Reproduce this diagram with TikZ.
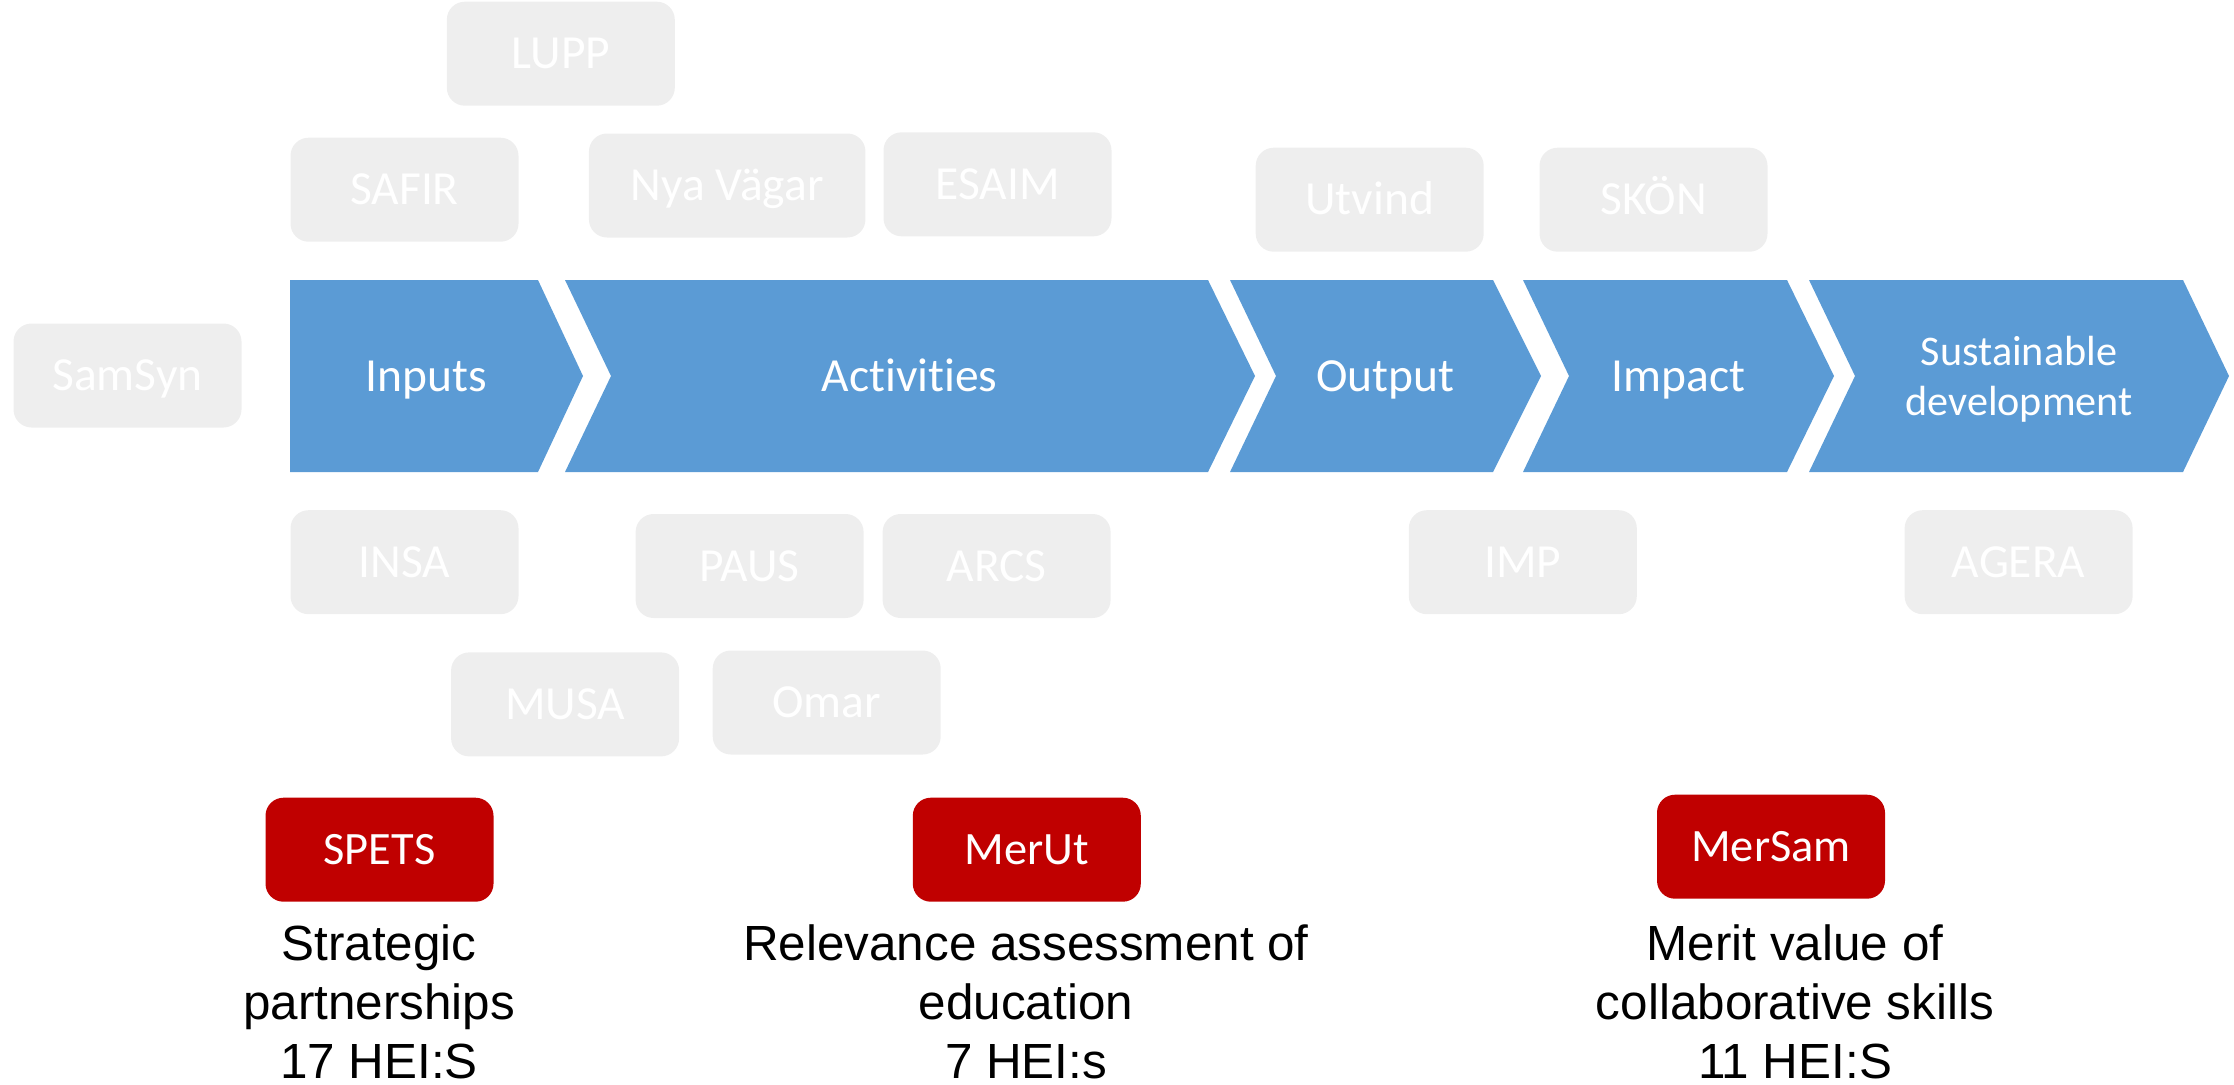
\documentclass[tikz,border=0pt]{standalone}
\usepackage{fontspec}
\setmainfont{Liberation Sans}
\newfontfamily\calibrifont[Ligatures=CommonOff]{Carlito}
\definecolor{chevblue}{HTML}{5B9BD5}
\definecolor{projgray}{HTML}{EEEEEE}
\definecolor{progred}{HTML}{C00000}
\tikzset{
  proj/.style={rectangle, rounded corners=18pt, fill=projgray, text=white,
    minimum width=228pt, minimum height=104pt, inner sep=0pt,
    font=\calibrifont\fontsize{47.5}{57}\selectfont,
    text height=30pt, text depth=0pt},
  prog/.style={proj, fill=progred, font=\calibrifont\fontsize{46.4}{56}\selectfont, text height=29.3pt},
  stage/.style={text=white, anchor=base, inner sep=0pt, align=center,
    font=\calibrifont\fontsize{47.5}{57}\selectfont},
  outcome/.style={anchor=base, inner sep=0pt, align=center,
    font=\fontsize{49.4}{59}\selectfont},
}
\begin{document}
\begin{tikzpicture}[x=1pt,y=-1pt]
\useasboundingbox (0,0) rectangle (2234,1084);

% value chain
\fill[chevblue] (290,280) -- (538,280) -- (583,376) -- (538,472) -- (290,472) -- cycle;
\fill[chevblue] (565,280) -- (1208,280) -- (1255,376) -- (1208,472) -- (565,472) -- (611,376) -- cycle;
\fill[chevblue] (1230,280) -- (1493,280) -- (1541,376) -- (1493,472) -- (1230,472) -- (1276,376) -- cycle;
\fill[chevblue] (1523,280) -- (1787,280) -- (1834,376) -- (1787,472) -- (1523,472) -- (1569,376) -- cycle;
\fill[chevblue] (1809,280) -- (2183,280) -- (2229,376) -- (2183,472) -- (1809,472) -- (1855,376) -- cycle;

% stage labels (base anchor = baseline of the last line)
\node[stage] (inputs) at (426,391.5) {Inputs};
\node[stage] (activities) at (909.5,391.5) {Activities};
\node[stage] (output) at (1385.5,391.5) {Output};
\node[stage] (impact) at (1678.5,391.5) {Impact};
\node[stage, font=\calibrifont\fontsize{42.2}{50}\selectfont] (sustdev) at (2019,415) {Sustainable\\development};

% projects
\node[proj] (lupp) at (560.8,53.7) {LUPP};
\node[proj] (safir) at (404.5,189.7) {SAFIR};
\node[proj, minimum width=276.5pt] (nyavagar) at (727.2,185.5) {Nya Vägar};
\node[proj] (esaim) at (997.5,184.3) {ESAIM};
\node[proj] (utvind) at (1369.7,199.7) {Utvind};
\node[proj] (skon) at (1653.5,199.7) {SKÖN};
\node[proj] (samsyn) at (127.5,375.5) {SamSyn};
\node[proj] (insa) at (404.5,562.2) {INSA};
\node[proj] (paus) at (749.6,566) {PAUS};
\node[proj] (arcs) at (996.6,566) {ARCS};
\node[proj] (musa) at (565.1,704.4) {MUSA};
\node[proj] (omar) at (826.7,702.5) {Omar};
\node[proj] (imp) at (1522.8,562.2) {IMP};
\node[proj] (agera) at (2018.6,562.2) {AGERA};

% programmes
\node[prog] (spets) at (379.5,849.7) {SPETS};
\node[prog] (merut) at (1026.8,849.7) {MerUt};
\node[prog] (mersam) at (1771,846.7) {MerSam};

\node[outcome] (spetstext) at (379,1078) {Strategic\\partnerships\\17 HEI:S};
\node[outcome] (meruttext) at (1026,1078) {Relevance assessment of\\education\\7 HEI:s};
\node[outcome] (mersamtext) at (1795,1078) {Merit value of\\collaborative skills\\11 HEI:S};
\end{tikzpicture}
\end{document}
